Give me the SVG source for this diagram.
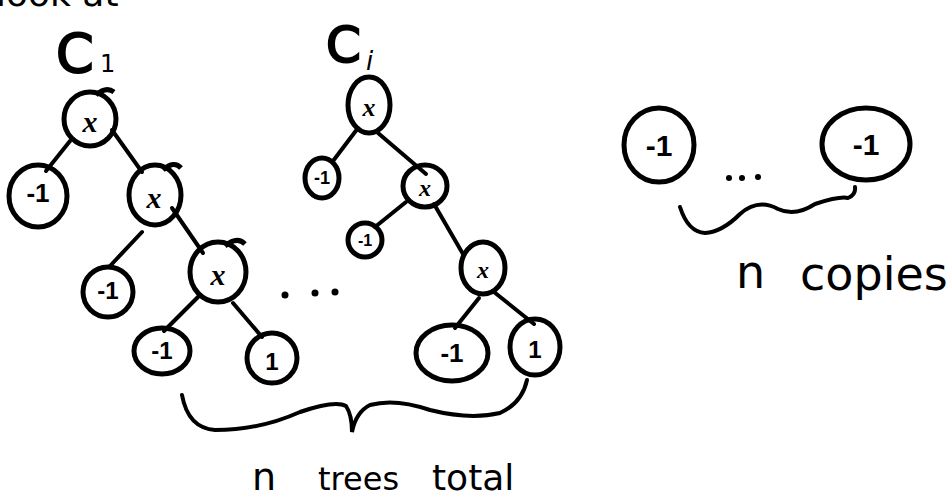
<svg xmlns="http://www.w3.org/2000/svg" width="949" height="502" viewBox="0 0 949 502">
<style>
.n{fill:none;stroke:#000;stroke-width:5;}
.e{fill:none;stroke:#000;stroke-width:4;stroke-linecap:round;}
.t{font-family:"Liberation Sans","DejaVu Sans",sans-serif;font-weight:bold;fill:#000;text-anchor:middle;dominant-baseline:central;}
.x{font-family:"Liberation Serif","DejaVu Serif",serif;font-style:italic;font-weight:bold;fill:#000;text-anchor:middle;dominant-baseline:central;}
.h{font-family:"DejaVu Sans","Liberation Sans",sans-serif;fill:#000;}
</style>
<rect width="949" height="502" fill="#fff"/>
<text class="h" x="-4" y="6" font-size="36">look at</text>

<g id="label-c1"><text class="h" x="56" y="72" font-size="54" stroke="#000" stroke-width="2">C</text><text class="h" x="100" y="72" font-size="24">1</text></g>
<g id="label-ci"><text class="h" x="326" y="62" font-size="50" stroke="#000" stroke-width="2">C</text><text class="h" x="366" y="70" font-size="26" font-style="italic">i</text></g>

<g id="connectors">
<path class="e" d="M70,141 L46,171"/>
<path class="e" d="M112,130 L142,172"/>
<path class="e" d="M142,232 L110,266"/>
<path class="e" d="M172,208 L203,253"/>
<path class="e" d="M198,297 L164,331"/>
<path class="e" d="M233,303 L262,337"/>
<path class="e" d="M358,128 L333,161"/>
<path class="e" d="M378,133 L426,174"/>
<path class="e" d="M406,202 L375,227"/>
<path class="e" d="M434,204 L463,254"/>
<path class="e" d="M479,298 L455,328"/>
<path class="e" d="M494,292 L534,324"/>
</g>

<g id="c1-root"><ellipse class="n" cx="90" cy="119" rx="26" ry="27"/><path class="n" d="M96,95 Q106,86 114,92" /><text class="x" x="90" y="121" font-size="30">x</text></g>
<g id="c1-m1a"><ellipse class="n" cx="38" cy="196" rx="29" ry="31"/><text class="t" x="38" y="193" font-size="26">-1</text></g>
<g id="c1-x2"><ellipse class="n" cx="155" cy="195" rx="26" ry="30"/><path class="n" d="M163,170 Q174,160 181,168"/><text class="x" x="154" y="197" font-size="30">x</text></g>
<g id="c1-m1b"><ellipse class="n" cx="108" cy="292" rx="25" ry="25"/><text class="t" x="108" y="290" font-size="24">-1</text></g>
<g id="c1-x3"><ellipse class="n" cx="218" cy="272" rx="28" ry="30"/><path class="n" d="M225,246 Q237,236 245,244"/><text class="x" x="218" y="274" font-size="30">x</text></g>
<g id="c1-m1c"><ellipse class="n" cx="162" cy="351" rx="28" ry="23"/><text class="t" x="162" y="350" font-size="24">-1</text></g>
<g id="c1-one"><ellipse class="n" cx="272" cy="358" rx="25" ry="25"/><text class="t" x="272" y="361" font-size="24">1</text></g>

<g id="dots1"><circle cx="285" cy="295" r="3.5"/><circle cx="315" cy="293" r="3.5"/><circle cx="335" cy="292" r="3.5"/></g>

<g id="ci-root"><ellipse class="n" cx="369" cy="105" rx="21" ry="28"/><text class="x" x="369" y="107" font-size="26">x</text></g>
<g id="ci-m1a"><ellipse class="n" cx="322" cy="178" rx="17" ry="20"/><text class="t" x="322" y="178" font-size="18">-1</text></g>
<g id="ci-x2"><ellipse class="n" cx="425" cy="186" rx="22" ry="21"/><text class="x" x="425" y="188" font-size="24">x</text></g>
<g id="ci-m1b"><ellipse class="n" cx="365" cy="240" rx="17" ry="17"/><text class="t" x="365" y="240" font-size="16">-1</text></g>
<g id="ci-x3"><ellipse class="n" cx="483" cy="268" rx="22" ry="26"/><text class="x" x="483" y="270" font-size="24">x</text></g>
<g id="ci-m1c"><ellipse class="n" cx="452" cy="353" rx="36" ry="28"/><text class="t" x="452" y="353" font-size="26">-1</text></g>
<g id="ci-one"><ellipse class="n" cx="535" cy="347" rx="25" ry="28"/><text class="t" x="535" y="349" font-size="24">1</text></g>

<g id="brace-trees"><path class="e" stroke-width="5" d="M182,395 Q188,428 215,430 Q260,430 300,412 Q335,400 346,406 Q352,415 352,432 Q356,412 370,405 Q395,398 430,410 Q470,420 500,413 Q522,403 527,380"/>
<text class="h" x="252" y="490" font-size="38">n</text><text class="h" x="318" y="490" font-size="32">trees</text><text class="h" x="432" y="490" font-size="36">total</text></g>

<g id="copy-left"><ellipse class="n" cx="659" cy="145" rx="35" ry="37"/><text class="t" x="659" y="145" font-size="30">-1</text></g>
<g id="copy-right"><ellipse class="n" cx="866" cy="144" rx="44" ry="36" stroke-width="7"/><text class="t" x="866" y="144" font-size="30">-1</text></g>
<g id="dots2"><circle cx="729" cy="178" r="3"/><circle cx="742" cy="178" r="3"/><circle cx="758" cy="177" r="3"/></g>
<g id="brace-copies"><path class="e" stroke-width="5" d="M680,207 Q688,232 705,233 Q722,232 740,214 Q758,198 778,209 Q795,217 815,204 Q840,196 848,198 Q856,195 855,187"/>
<text class="h" x="736" y="288" font-size="46">n</text><text class="h" x="800" y="290" font-size="46">copies</text></g>
</svg>
